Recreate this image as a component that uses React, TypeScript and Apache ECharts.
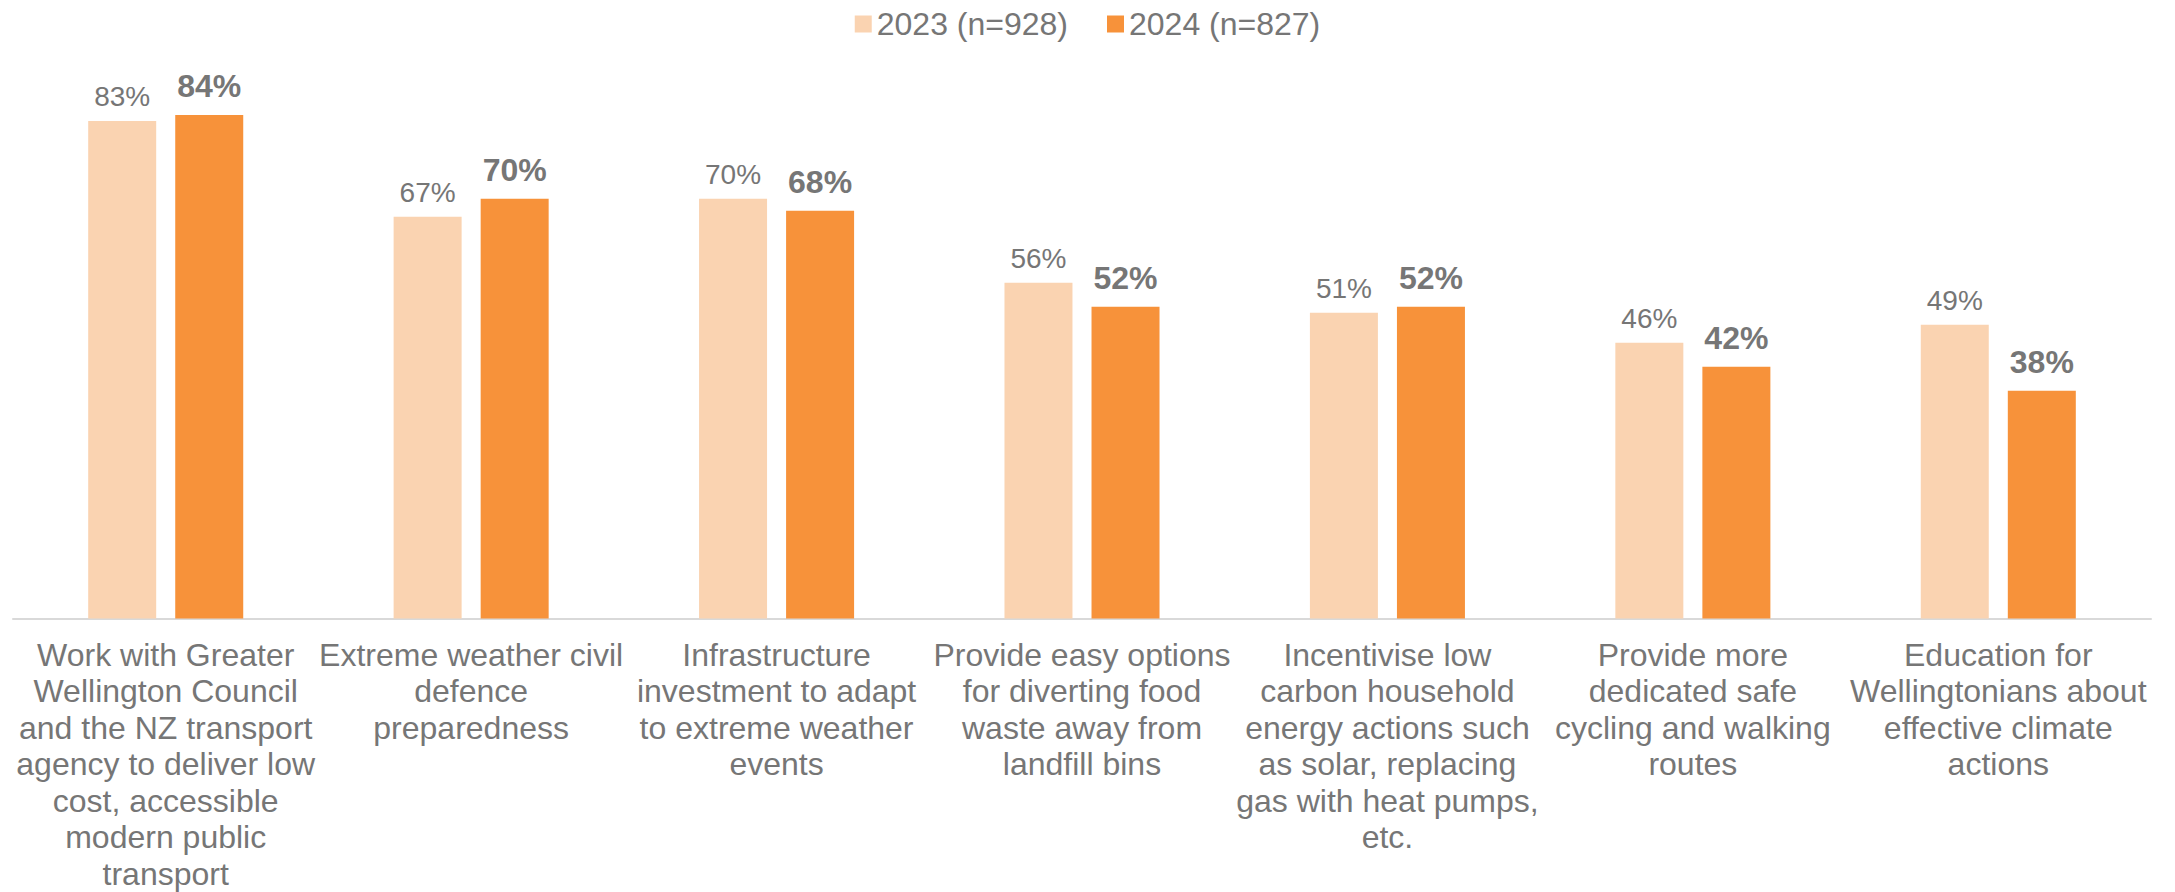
import React, { useEffect, useRef } from "react";
import * as echarts from "echarts";

const categories: string[] = [
  "Work with Greater\nWellington Council\nand the NZ transport\nagency to deliver low\ncost, accessible\nmodern public\ntransport",
  "Extreme weather civil\ndefence\npreparedness",
  "Infrastructure\ninvestment to adapt\nto extreme weather\nevents",
  "Provide easy options\nfor diverting food\nwaste away from\nlandfill bins",
  "Incentivise low\ncarbon household\nenergy actions such\nas solar, replacing\ngas with heat pumps,\netc.",
  "Provide more\ndedicated safe\ncycling and walking\nroutes",
  "Education for\nWellingtonians about\neffective climate\nactions",
];

const seriesNames: string[] = ["2023 (n=928)", "2024 (n=827)"];
const values2023: number[] = [83, 67, 70, 56, 51, 46, 49];
const values2024: number[] = [84, 70, 68, 52, 52, 42, 38];

const FONT = "'Liberation Sans', Arial, Helvetica, sans-serif";
const GRAY = "#767676";

export default function App() {
  const ref = useRef<HTMLDivElement>(null);

  useEffect(() => {
    document.body.style.margin = "0";
    if (!ref.current) return;
    const chart = echarts.init(ref.current, null, { renderer: "svg" });
    chart.setOption({
      animation: false,
      backgroundColor: "#ffffff",
      textStyle: { fontFamily: FONT },
      legend: {
        show: true,
        left: "center",
        top: 3,
        icon: "rect",
        itemWidth: 17,
        itemHeight: 17,
        itemGap: 39,
        textStyle: { fontSize: 32, color: GRAY, fontFamily: FONT },
        data: seriesNames,
      },
      grid: { left: 13, right: 24, top: 19, bottom: 273, containLabel: false },
      xAxis: {
        type: "category",
        data: categories,
        axisLine: { show: true, lineStyle: { color: "#D9D9D9", width: 2 } },
        axisTick: { show: false },
        axisLabel: {
          interval: 0,
          margin: 18,
          color: GRAY,
          fontSize: 32,
          lineHeight: 36.5,
          fontFamily: FONT,
          align: "center",
          verticalAlign: "top",
        },
      },
      yAxis: {
        type: "value",
        min: 0,
        max: 100,
        show: false,
        splitLine: { show: false },
      },
      series: [
        {
          name: seriesNames[0],
          type: "bar",
          data: values2023,
          barWidth: 68,
          barGap: "28%",
          itemStyle: { color: "#FAD3B1" },
          label: {
            show: true,
            position: "top",
            distance: 10,
            formatter: "{c}%",
            color: GRAY,
            fontSize: 28,
            fontFamily: FONT,
          },
        },
        {
          name: seriesNames[1],
          type: "bar",
          data: values2024,
          barWidth: 68,
          barGap: "28%",
          itemStyle: { color: "#F7923A" },
          label: {
            show: true,
            position: "top",
            distance: 13,
            formatter: "{c}%",
            color: GRAY,
            fontSize: 32,
            fontWeight: "bold",
            fontFamily: FONT,
          },
        },
      ],
    });
    return () => chart.dispose();
  }, []);

  return <div ref={ref} style={{ width: 2175, height: 892 }} />;
}
